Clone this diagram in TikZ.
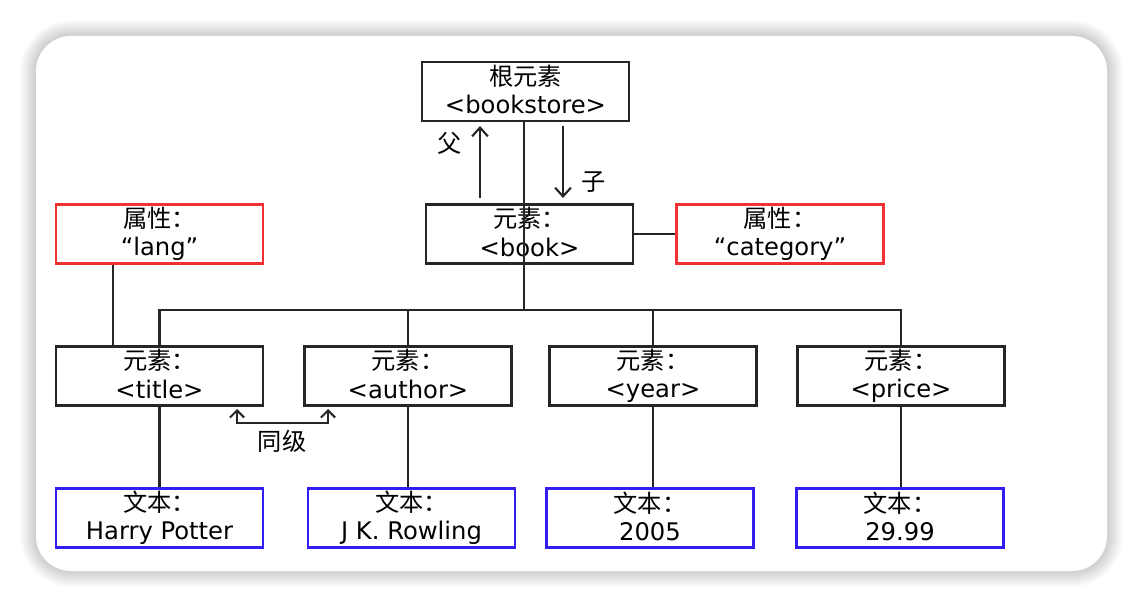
\documentclass[tikz,border=0pt]{standalone}
\usepackage{fontspec}
\setmainfont{DejaVu Sans}
\newfontfamily\cjk{Noto Sans CJK SC}
\usepackage{tikz}
\usetikzlibrary{arrows.meta}
\usetikzlibrary{positioning}
\definecolor{attrred}{RGB}{240,50,50}
\definecolor{txtblue}{RGB}{50,30,240}
\tikzset{
  elem/.style={draw=black!85, line width=1.2pt, minimum width=4.14cm, minimum height=1.18cm, align=center, inner sep=0pt, font=\fontsize{13.8}{16}\selectfont, execute at end node={\rule[-2.5pt]{0pt}{2.5pt}}},
  attr/.style={elem, draw=attrred},
  wert/.style={elem, draw=txtblue},
  linha/.style={line width=1.2pt, black!85},
  seta/.style={linha, -{Straight Barb[length=5pt, width=9pt]}},
  rotulo/.style={font=\cjk\fontsize{13.8}{16}\selectfont},
}

\begin{document}
\begin{tikzpicture}[x=0.02cm, y=-0.02cm]
  \useasboundingbox (0,0) rectangle (1144,608);
  \foreach \r in {1,...,16}
    \fill[black, opacity=0.012, rounded corners=0.7cm+\r*0.02cm] (36-\r,36-\r) rectangle (1107+\r,571+\r);
  \fill[white, rounded corners=0.7cm] (36,36) rectangle (1107,571);

  \node[elem] (root) at (525.5,91.5) {{\cjk 根元素}\\<bookstore>};
  \node[elem] (book) at (529.5,234) {{\cjk 元素：}\\<book>};
  \node[attr] (lang) at (159.5,234) {{\cjk 属性：}\\“lang”};
  \node[attr] (cat) at (780,234) {{\cjk 属性：}\\“category”};
  \node[elem] (title) at (159.5,376) {{\cjk 元素：}\\<title>};
  \node[elem] (author) at (408,376) {{\cjk 元素：}\\<author>};
  \node[elem] (year) at (653,376) {{\cjk 元素：}\\<year>};
  \node[elem] (price) at (901,376) {{\cjk 元素：}\\<price>};
  \node[wert] (harry) at (159.5,518) {{\cjk 文本：}\\Harry Potter};
  \node[wert] (rowling) at (411.5,518) {{\cjk 文本：}\\J K. Rowling};
  \node[wert] (ano) at (650,518) {{\cjk 文本：}\\2005};
  \node[wert] (preco) at (900,518) {{\cjk 文本：}\\29.99};

  \coordinate (fork) at (524,310);
  \draw[linha] (root.south -| fork) -- (fork);
  \draw[linha] (title.north) |- (fork) -| (price.north);
  \draw[linha] (author.north) -- (author.north |- fork);
  \draw[linha] (year.north) -- (year.north |- fork);
  \draw[linha] ([xshift=-0.93cm]lang.south) -- ([xshift=-0.93cm]title.north);
  \draw[linha] (book.east) -- (cat.west);
  \draw[linha] (title.south) -- (harry.north);
  \draw[linha] (author.south) -- (author.south |- rowling.north);
  \draw[linha] (year.south) -- (year.south |- ano.north);
  \draw[linha] (price.south) -- (price.south |- preco.north);

  \coordinate (pai1) at (480,198); \coordinate (pai2) at (480,126);
  \coordinate (filho1) at (563,126); \coordinate (filho2) at (563,198);
  \draw[seta] (pai1) -- (pai2);
  \draw[seta] (filho1) -- (filho2);
  \node[rotulo] (pai) at (450,143) {父};
  \node[rotulo] (filho) at (594,182) {子};

  \coordinate (irm1) at (237,409); \coordinate (irm2) at (328,409);
  \draw[linha, {Straight Barb[length=4pt, width=8pt]}-{Straight Barb[length=4pt, width=8pt]}] (irm1) |- (282,423) -| (irm2);
  \node[rotulo] (irmao) at (282,441) {同级};
\end{tikzpicture}
\end{document}
